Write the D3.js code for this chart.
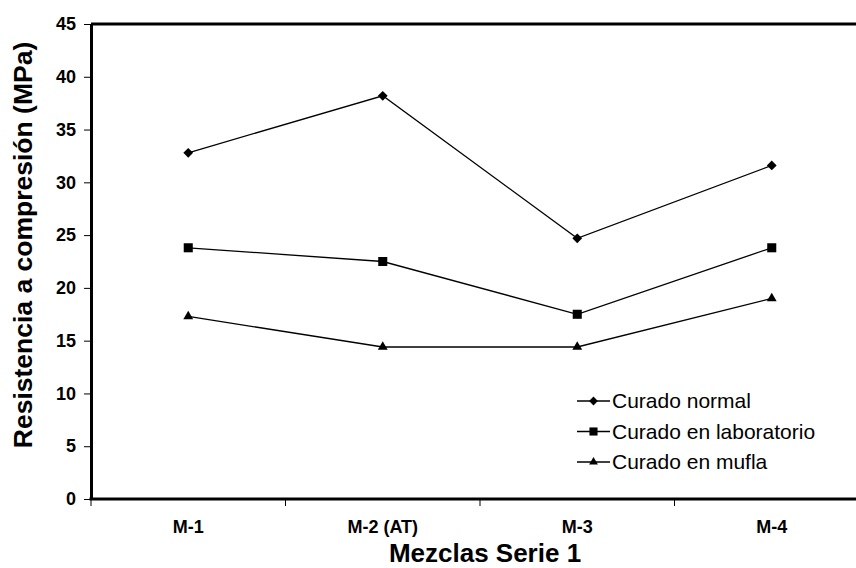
<!DOCTYPE html>
<html>
<head>
<meta charset="utf-8">
<script src="https://cdn.jsdelivr.net/npm/d3@7"></script>
<style>
  body { margin: 0; background: #fff; }
  svg { display: block; font-family: "Liberation Sans", Arial, sans-serif; }
</style>
</head>
<body>
<svg id="chart" width="856" height="568"></svg>
<script>
const mezclas = ["M-1", "M-2 (AT)", "M-3", "M-4"];
const curadoNormal = [32.8, 38.2, 24.7, 31.6];
const curadoLab = [23.8, 22.5, 17.5, 23.8];
const curadoMufla = [17.3, 14.4, 14.4, 19.0];
const yTicks = [0, 5, 10, 15, 20, 25, 30, 35, 40, 45];
const seriesNames = ["Curado normal", "Curado en laboratorio", "Curado en mufla"];

// diamond = square turned 45 degrees, like the spreadsheet marker
const series = [
  { name: seriesNames[0], values: curadoNormal, symbol: d3.symbolSquare, size: 48, rot: 45 },
  { name: seriesNames[1], values: curadoLab, symbol: d3.symbolSquare, size: 82, rot: 0 },
  { name: seriesNames[2], values: curadoMufla, symbol: d3.symbolTriangle, size: 42, rot: 0 }
];

const svg = d3.select("#chart");
const margin = { left: 91, top: 24 };
const plotW = 778, plotH = 475;

const x = d3.scaleBand().domain(mezclas).range([margin.left, margin.left + plotW]);
const y = d3.scaleLinear().domain([0, 45]).range([margin.top + plotH, margin.top]);

// top border
svg.append("line")
  .attr("x1", margin.left).attr("x2", margin.left + plotW)
  .attr("y1", margin.top).attr("y2", margin.top)
  .attr("stroke", "#000").attr("stroke-width", 3);

// y axis
const yAxis = svg.append("g")
  .attr("transform", `translate(${margin.left},0)`)
  .call(d3.axisLeft(y).tickValues(yTicks).tickSize(7).tickPadding(8).tickSizeOuter(0));
yAxis.select(".domain").attr("stroke-width", 3);
yAxis.selectAll(".tick line").attr("stroke-width", 1);
yAxis.selectAll("text")
  .attr("font-size", 18).attr("font-weight", "bold")
  .attr("font-family", "Liberation Sans, Arial, sans-serif").attr("fill", "#000");

// x axis: ticks at band boundaries
const xAxis = svg.append("g")
  .attr("transform", `translate(0,${margin.top + plotH})`);
xAxis.append("line")
  .attr("x1", margin.left - 1.5).attr("x2", margin.left + plotW)
  .attr("stroke", "#000").attr("stroke-width", 3);
xAxis.selectAll(".xt")
  .data(mezclas)
  .enter().append("line")
  .attr("x1", d => x(d)).attr("x2", d => x(d))
  .attr("y1", 0).attr("y2", 7)
  .attr("stroke", "#000").attr("stroke-width", 1);
xAxis.selectAll(".xl")
  .data(mezclas)
  .enter().append("text")
  .attr("x", d => x(d) + x.bandwidth() / 2)
  .attr("y", 34)
  .attr("text-anchor", "middle")
  .attr("font-size", 18).attr("font-weight", "bold")
  .text(d => d);

// axis titles
svg.append("text")
  .attr("x", 485).attr("y", 562)
  .attr("text-anchor", "middle")
  .attr("font-size", 26).attr("font-weight", "bold")
  .text("Mezclas Serie 1");

svg.append("text")
  .attr("transform", "translate(32,245) rotate(-90)")
  .attr("text-anchor", "middle")
  .attr("font-size", 26.5).attr("font-weight", "bold")
  .text("Resistencia a compresión (MPa)");

// series
const line = d3.line()
  .x((d, i) => x(mezclas[i]) + x.bandwidth() / 2)
  .y(d => y(d));

series.forEach(s => {
  svg.append("path")
    .datum(s.values)
    .attr("d", line)
    .attr("fill", "none")
    .attr("stroke", "#000")
    .attr("stroke-width", 1.3);

  svg.selectAll(null)
    .data(s.values)
    .enter().append("path")
    .attr("transform", (d, i) => `translate(${x(mezclas[i]) + x.bandwidth() / 2},${y(d)}) rotate(${s.rot})`)
    .attr("d", d3.symbol().type(s.symbol).size(s.size))
    .attr("fill", "#000");
});

// legend
const legend = svg.append("g").attr("transform", "translate(577,401)");
const item = legend.selectAll("g")
  .data(series)
  .enter().append("g")
  .attr("transform", (d, i) => `translate(0,${i * 30.5})`);
item.append("line")
  .attr("x1", 0).attr("x2", 33)
  .attr("stroke", "#000").attr("stroke-width", 1.3);
item.append("path")
  .attr("transform", d => `translate(16.5,0) rotate(${d.rot})`)
  .attr("d", d => d3.symbol().type(d.symbol).size(d.size * 0.8)())
  .attr("fill", "#000");
item.append("text")
  .attr("x", 35).attr("dy", "0.35em")
  .attr("font-size", 21)
  .text(d => d.name);
</script>
</body>
</html>
